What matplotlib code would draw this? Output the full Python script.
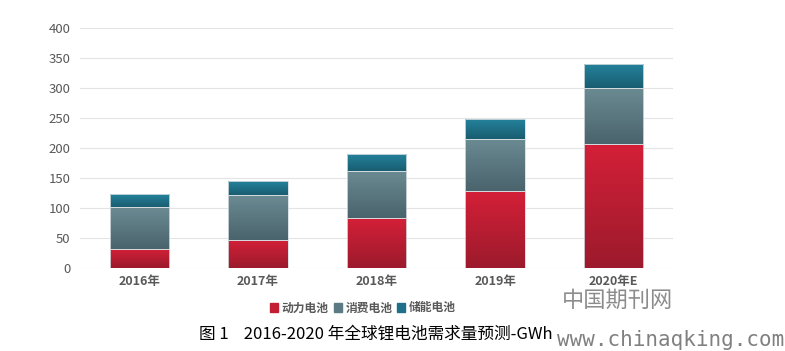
import matplotlib.pyplot as plt
import numpy as np

plt.rcParams['font.family'] = ['Noto Sans CJK SC', 'DejaVu Sans']

# 数据（从图中读取，单位 GWh）
years = ["2016年", "2017年", "2018年", "2019年", "2020年E"]
power = [32, 47, 83, 128, 207]       # 动力电池
consumer = [70, 75, 79, 87, 93]      # 消费电池
storage = [21, 23, 28, 33, 40]       # 储能电池
series_names = ["动力电池", "消费电池", "储能电池"]

# 渐变色（上 -> 下）
grad = [("#d42038", "#9c1a2c"), ("#6b8b93", "#4a636c"), ("#24829c", "#195d70")]
legend_colors = ["#c21d33", "#5b7a83", "#1f7189"]


def gradient_bars(ax, bars, top, bottom):
    """每个柱子用竖向渐变填充"""
    cmap = plt.matplotlib.colors.LinearSegmentedColormap.from_list("g", [bottom, top])
    img = np.linspace(0, 1, 256).reshape(-1, 1)
    for b in bars:
        x0, y0 = b.get_x(), b.get_y()
        w, h = b.get_width(), b.get_height()
        im = ax.imshow(img, cmap=cmap, origin="lower", aspect="auto",
                       extent=(x0, x0 + w, y0, y0 + h), zorder=2)
        im.set_clip_path(b)


fig = plt.figure(figsize=(7.85, 3.51), dpi=100)
ax = fig.add_axes([80 / 785, 83 / 351, 593 / 785, 240 / 351])

x = np.arange(len(years))
bottom = np.zeros(len(years))
for vals, (top_c, bot_c) in zip([power, consumer, storage], grad):
    bars = ax.bar(x, vals, 0.5, bottom=bottom, facecolor="none",
                  edgecolor="#d6dde0", linewidth=0.6, zorder=3)
    gradient_bars(ax, bars, top_c, bot_c)
    bottom += np.array(vals)

ax.set_xlim(-0.5, len(years) - 0.5)
ax.set_ylim(0, 400)
ax.set_yticks(np.arange(0, 401, 50))
ax.set_xticks(x)
ax.set_xticklabels(years, fontsize=9, fontweight="bold", color="#595959")
ax.tick_params(axis="y", labelsize=9.5, labelcolor="#595959", length=0, pad=7)
ax.tick_params(axis="x", length=0, pad=5)
ax.grid(axis="y", color="#e4e4e4", linewidth=0.8, zorder=0)
ax.set_axisbelow(True)
for s in ax.spines.values():
    s.set_visible(False)

# 图例
handles = [plt.Rectangle((0, 0), 1, 1, color=c) for c in legend_colors]
leg = fig.legend(handles, series_names, loc="center", bbox_to_anchor=(363 / 785, 1 - 308 / 351),
                 ncol=3, frameon=False, handlelength=0.7, handleheight=0.7,
                 handletextpad=0.3, columnspacing=0.4, prop={"size": 8.5, "weight": "bold"})
for t in leg.get_texts():
    t.set_color("#595959")

# 水印
fig.text(618 / 785, 1 - 300 / 351, "中国期刊网", fontsize=16, color="#8c8c8c",
         va="center", ha="center", fontweight="light", zorder=0)
fig.text(671 / 785, 1 - 340 / 351, "www.chinaqking.com", fontsize=15, color="#808080",
         va="center", ha="center", family="DejaVu Sans Mono", zorder=0)

# 图题
fig.text(199 / 785, 1 - 334 / 351, "图 1    2016-2020 年全球锂电池需求量预测-GWh",
         fontsize=12, color="black", va="center", ha="left", zorder=5)

fig.savefig("out.png", dpi=100)
